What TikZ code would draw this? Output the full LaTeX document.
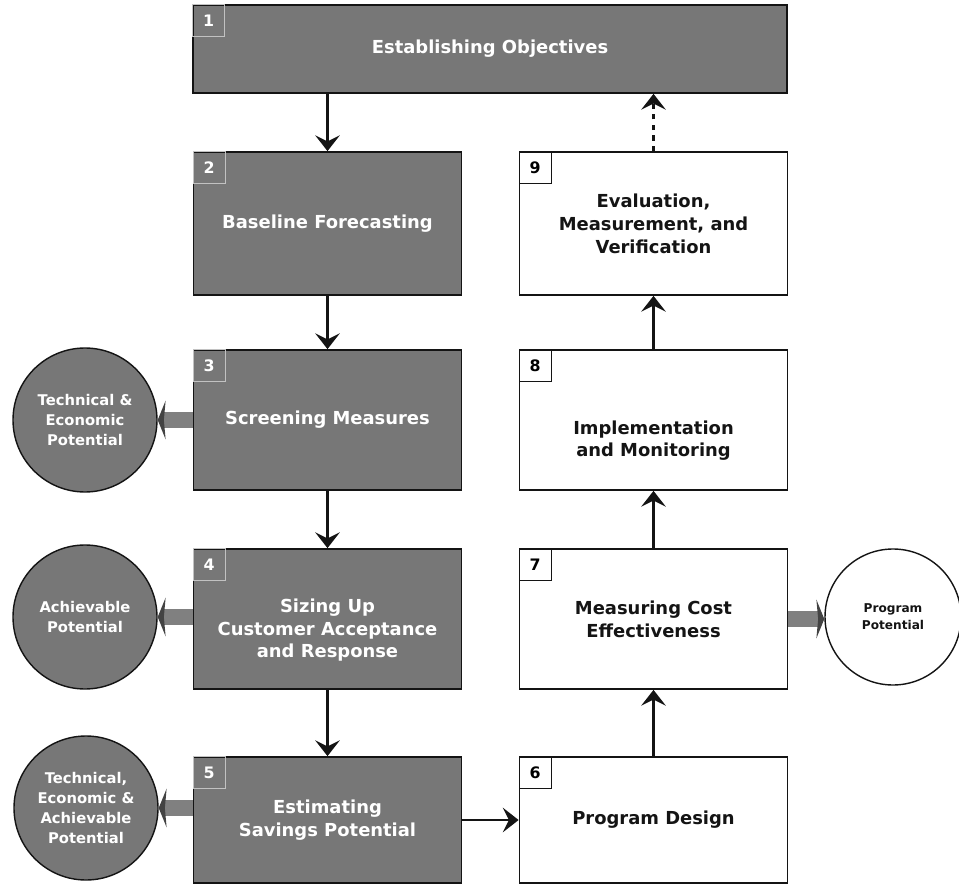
\documentclass[tikz,border=0pt]{standalone}
\usepackage{fontspec}
\setmainfont{DejaVu Sans}
\usetikzlibrary{arrows.meta, positioning, calc}
\definecolor{scangray}{HTML}{777777}
\definecolor{arrowgray}{HTML}{808080}
\definecolor{inkblack}{HTML}{141414}

\tikzset{
  stagebox/.style={draw=inkblack, line width=1pt, minimum width=5.36cm,
                   align=center, font=\fontsize{10.2}{13}\selectfont\bfseries},
  darkbox/.style={stagebox, fill=scangray, text=white},
  lightbox/.style={stagebox, fill=white, text=inkblack},
  numtag/.style={draw=inkblack, line width=0.7pt, minimum size=0.64cm,
                 inner sep=0pt, anchor=north west,
                 font=\fontsize{9}{9}\selectfont\bfseries},
  darktag/.style={draw=white!55!scangray, text=white},
  potcircle/.style={circle, draw=inkblack, line width=0.8pt,
                    minimum size=2.88cm, align=center, inner sep=0pt,
                    font=\fontsize{8.4}{11.3}\selectfont\bfseries},
  flow/.style={-{Stealth[length=9pt,width=14pt,inset=3.5pt]},
               line width=1.6pt, draw=inkblack},
  blockarrow/.style={-{Stealth[length=4.5pt,width=22pt,inset=1pt,color=inkblack!80]},
                     line width=9.5pt, draw=arrowgray},
}

\begin{document}
\begin{tikzpicture}
  % page = 959 x 886 px at 0.02 cm per px
  \useasboundingbox (0,0) rectangle (19.18,17.72);
  \def\lx{6.55}
  \def\rx{13.07}

  % stage 1 spans both columns
  \node[darkbox, minimum width=11.88cm, minimum height=1.76cm] (b1) at (9.80,16.74)
    {Establishing Objectives};

  % left column
  \node[darkbox, minimum height=2.86cm] (b2) at (\lx,13.25) {Baseline Forecasting};
  \node[darkbox, minimum height=2.80cm] (b3) at (\lx,9.32) {Screening Measures};
  \node[darkbox, minimum height=2.80cm] (b4) at (\lx,5.34)
    {\rule{0pt}{0.72cm}Sizing Up\\Customer Acceptance\\and Response};
  \node[darkbox, minimum height=2.52cm] (b5) at (\lx,1.32)
    {Estimating\\Savings Potential};

  % right column
  \node[lightbox, minimum height=2.52cm] (b6) at (\rx,1.32) {Program Design};
  \node[lightbox, minimum height=2.80cm] (b7) at (\rx,5.34)
    {Measuring Cost\\Effectiveness};
  \node[lightbox, minimum height=2.80cm] (b8) at (\rx,9.32)
    {\rule{0pt}{1.1cm}Implementation\\and Monitoring};
  \node[lightbox, minimum height=2.86cm] (b9) at (\rx,13.25)
    {Evaluation,\\Measurement, and\\Verification};

  % number tags
  \foreach \b/\n in {b1/1,b2/2,b3/3,b4/4,b5/5}
    \node[numtag, darktag] (n\n) at (\b.north west) {\n};
  \foreach \b/\n in {b6/6,b7/7,b8/8,b9/9}
    \node[numtag] (n\n) at (\b.north west) {\n};

  % potential circles
  \node[potcircle, fill=scangray, text=white] (c1) at (1.70,9.32)
    {Technical \&\\Economic\\Potential};
  \node[potcircle, fill=scangray, text=white] (c2) at (1.70,5.38)
    {Achievable\\Potential};
  \node[potcircle, fill=scangray, text=white] (c3) at (1.72,1.56)
    {Technical,\\Economic \&\\Achievable\\Potential};
  \node[potcircle, fill=white, text=inkblack, minimum size=2.72cm,
        font=\fontsize{6.9}{9.5}\selectfont\bfseries] (pp) at (17.86,5.38)
    {Program\\Potential};

  % flow arrows
  \foreach \a/\b in {b1/b2,b2/b3,b3/b4,b4/b5}
    \draw[flow] (\a.south -| \b.north) -- (\b.north);
  \foreach \a/\b in {b6/b7,b7/b8,b8/b9}
    \draw[flow] (\a.north) -- (\b.south);
  \draw[flow, dashed] (b9.north) -- (b9.north |- b1.south);
  \draw[flow] (b5.east) -- (b6.west);

  % block arrows to the circles
  \draw[blockarrow] (c1.east -| b3.west) -- (c1.east);
  \draw[blockarrow] (c2.east -| b4.west) -- (c2.east);
  \draw[blockarrow] (c3.east -| b5.west) -- (c3.east);
  \draw[blockarrow] (b7.east) -- (b7.east -| pp.west);
\end{tikzpicture}
\end{document}
